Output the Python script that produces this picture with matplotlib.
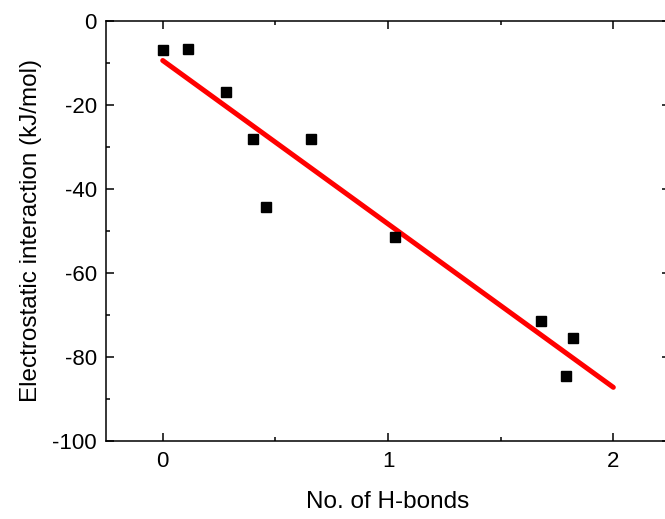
import matplotlib
matplotlib.use("Agg")
import matplotlib.pyplot as plt
import numpy as np
from matplotlib.ticker import MultipleLocator

plt.rcParams['font.family'] = ['Liberation Sans', 'DejaVu Sans']
plt.rcParams['axes.unicode_minus'] = False

hbonds = [0.0, 0.11, 0.28, 0.40, 0.66, 0.46, 1.03, 1.68, 1.82, 1.79]
elec = [-6.9, -6.7, -16.9, -28.1, -28.2, -44.4, -51.5, -71.4, -75.4, -84.4]
fit_x = [0.0, 2.0]
fit_y = [-9.45, -87.2]

fig = plt.figure(figsize=(6.65, 5.19), dpi=100)
ax = fig.add_axes([0.160, 0.150, 0.847, 0.810])

ax.plot(fit_x, fit_y, color='#ff0000', lw=3.6, solid_capstyle='round', zorder=2)
ax.plot(hbonds, elec, 's', color='black', ms=6.5, zorder=3)

ax.set_xlim(-0.25, 2.25)
ax.set_ylim(-100, 0)
ax.xaxis.set_major_locator(MultipleLocator(1))
ax.xaxis.set_minor_locator(MultipleLocator(0.5))
ax.yaxis.set_major_locator(MultipleLocator(20))
ax.yaxis.set_minor_locator(MultipleLocator(10))
ax.tick_params(which='both', direction='in', top=True, right=True, width=1.1, labelsize=16, pad=7)
ax.tick_params(which='major', length=6)
ax.tick_params(which='minor', length=3)
for s in ax.spines.values():
    s.set_linewidth(1.1)

ax.set_xlabel('No. of H-bonds', fontsize=17.5, labelpad=14)
ax.set_ylabel('Electrostatic interaction (kJ/mol)', fontsize=17.5, labelpad=7)

fig.savefig('out.png', dpi=100)
